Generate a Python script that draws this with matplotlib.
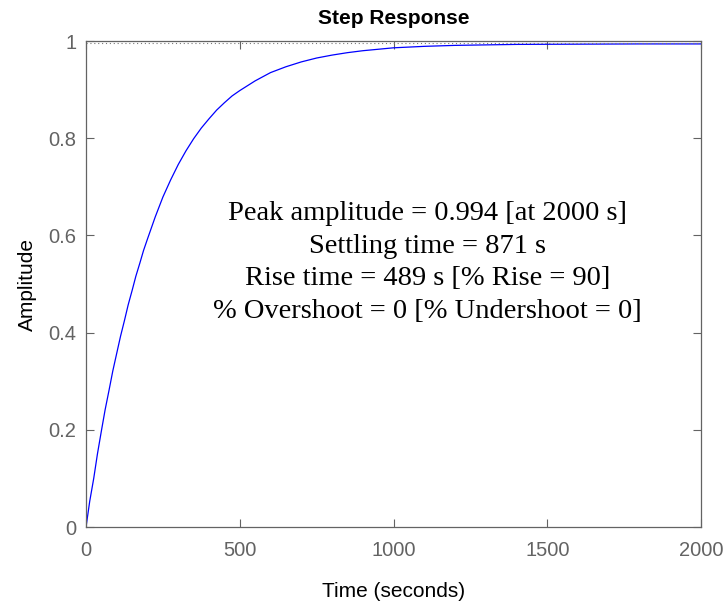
import matplotlib
matplotlib.use("Agg")
import matplotlib.pyplot as plt

# step response samples (time in s, amplitude)
t_s = [0, 12, 25, 37, 50, 62, 75, 87, 100, 112, 125, 137, 150, 162, 175, 187,
       200, 225, 250, 275, 300, 325, 350, 375, 400, 425, 450, 475, 500, 550,
       600, 650, 700, 750, 800, 850, 900, 950, 1000, 1100, 1200, 1300, 1400,
       1600, 1800, 2000]
amp = [0.0, 0.053, 0.100, 0.150, 0.198, 0.241, 0.282, 0.321, 0.358, 0.392,
       0.425, 0.457, 0.487, 0.516, 0.543, 0.569, 0.593, 0.638, 0.679, 0.714,
       0.746, 0.774, 0.799, 0.821, 0.840, 0.858, 0.873, 0.887, 0.898, 0.918,
       0.935, 0.947, 0.957, 0.965, 0.971, 0.976, 0.980, 0.983, 0.986, 0.989,
       0.991, 0.992, 0.993, 0.9935, 0.994, 0.994]
final_value = 0.996

peak_amp, peak_t = 0.994, 2000
settling = 871
rise, rise_pct = 489, 90
overshoot, undershoot = 0, 0

x_ticks = [0, 500, 1000, 1500, 2000]
y_ticks = [0, 0.2, 0.4, 0.6, 0.8, 1]

GRAY = "#636363"
plt.rcParams["font.family"] = ["Liberation Sans", "DejaVu Sans"]

fig = plt.figure(figsize=(7.26, 6.03), dpi=100)
ax = fig.add_axes([0.1185, 0.126, 0.8471, 0.806])

ax.plot(t_s, amp, color="#0000ff", lw=0.9)
ax.axhline(final_value, color="#777777", lw=0.8, ls=(0, (1, 2.5)))

ax.set_xlim(0, 2000)
ax.set_ylim(0, 1)
ax.set_xticks(x_ticks)
ax.set_yticks(y_ticks)
ax.set_yticklabels(["0", "0.2", "0.4", "0.6", "0.8", "1"])
ax.tick_params(direction="in", length=6, width=0.8, colors=GRAY,
               labelsize=14.5, top=True, right=True)
ax.tick_params(axis="x", pad=10)
ax.tick_params(axis="y", pad=7)
for sp in ax.spines.values():
    sp.set_color(GRAY)
    sp.set_linewidth(0.9)

ax.set_title("Step Response", fontsize=15, fontweight="bold", pad=12)
ax.set_xlabel("Time (seconds)", fontsize=15, labelpad=16)
ax.set_ylabel("Amplitude", fontsize=15, labelpad=8)

info = (f"Peak amplitude = {peak_amp} [at {peak_t} s]\n"
        f"Settling time = {settling} s\n"
        f"Rise time = {rise} s [% Rise = {rise_pct}]\n"
        f"% Overshoot = {overshoot} [% Undershoot = {undershoot}]")
ax.text(1110, 0.544, info, ha="center", va="center", fontsize=20.5,
        family="Liberation Serif", linespacing=1.4)

fig.savefig("out.png", dpi=100)
